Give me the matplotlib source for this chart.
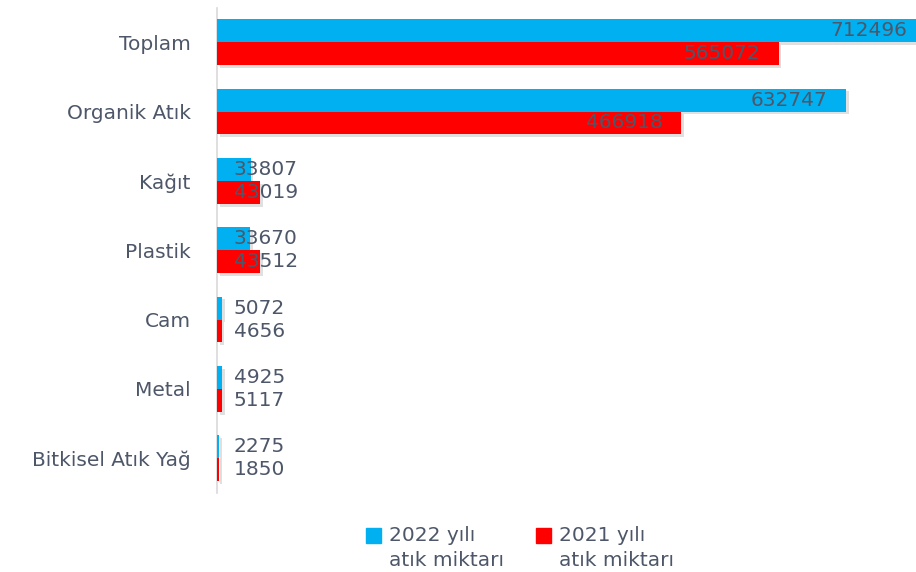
import matplotlib
matplotlib.use("Agg")
import matplotlib.pyplot as plt
from matplotlib.patches import Rectangle
from matplotlib.legend_handler import HandlerPatch
import matplotlib.patheffects as pe
import numpy as np

categories = ["Toplam", "Organik Atık", "Kağıt", "Plastik", "Cam", "Metal", "Bitkisel Atık Yağ"]
values_2022 = [712496, 632747, 33807, 33670, 5072, 4925, 2275]
values_2021 = [565072, 466918, 43019, 43512, 4656, 5117, 1850]
series_labels = ["2022 yılı\natık miktarı", "2021 yılı\natık miktarı"]

BLUE = "#00B0F0"
RED = "#FF0000"
TXT = "#4D5769"
plt.rcParams['font.family'] = ['DejaVu Sans']
FS = 14.5

W, H = 916, 572
fig = plt.figure(figsize=(W / 100, H / 100), dpi=100)
ax = fig.add_axes([217 / W, 1 - 493 / H, (925 - 217) / W, (493 - 7.5) / H])

y = np.arange(len(categories))
h = 0.33
shadow = [pe.SimplePatchShadow(offset=(2, -2), alpha=0.18, shadow_rgbFace="#555555"), pe.Normal()]
ax.barh(y - h / 2, values_2022, height=h, color=BLUE, path_effects=shadow, zorder=3)
ax.barh(y + h / 2, values_2021, height=h, color=RED, path_effects=shadow, zorder=3)

ax.set_xlim(0, max(values_2022))
ax.set_ylim(len(categories) - 0.5, -0.5)
ax.set_yticks(y)
ax.set_yticklabels(categories, fontsize=FS, color=TXT)
ax.tick_params(axis="y", length=0, pad=19)
ax.set_xticks([])
for s in ["top", "right", "bottom"]:
    ax.spines[s].set_visible(False)
ax.spines["left"].set_color("#D9D9D9")
ax.spines["left"].set_linewidth(1.2)
ax.spines["left"].set_zorder(1)

for vals, yy in ((values_2022, y - h / 2), (values_2021, y + h / 2)):
    for v, yc in zip(vals, yy):
        if v > 100000:
            ax.annotate(str(v), (v, yc), xytext=(-13, 0), textcoords="offset points",
                        ha="right", va="center", fontsize=FS, color=TXT, zorder=5,
                        annotation_clip=False)
        else:
            ax.annotate(str(v), (0, yc), xytext=(12, 0), textcoords="offset points",
                        ha="left", va="center", fontsize=FS, color=TXT, zorder=5)


def top_square(legend, orig_handle, xdescent, ydescent, width, height, fontsize):
    s = 0.75 * fontsize
    return Rectangle((-xdescent, -ydescent + 0.62 * fontsize), s, s)


handles = [Rectangle((0, 0), 1, 1, color=BLUE), Rectangle((0, 0), 1, 1, color=RED)]
hm = {h_: HandlerPatch(patch_func=top_square) for h_ in handles}
leg = fig.legend(handles, series_labels, loc="center", bbox_to_anchor=(520 / W, 1 - 548 / H),
                 ncol=2, frameon=False, fontsize=FS, handlelength=0.75, handleheight=0.75,
                 handletextpad=0.4, columnspacing=1.6, labelcolor=TXT, handler_map=hm)
for t in leg.get_texts():
    t.set_linespacing(1.35)

fig.savefig("out.png", dpi=100)
